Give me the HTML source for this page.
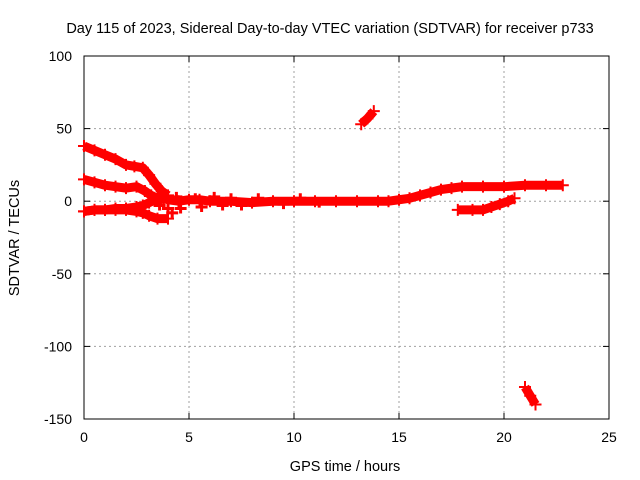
<!DOCTYPE html>
<html><head><meta charset="utf-8"><style>
body{margin:0;background:#fff}
svg{display:block;font-family:"Liberation Sans",sans-serif}
</style></head><body>
<svg id="c" width="640" height="480"></svg>
<script>
const xTicks=[0,5,10,15,20,25];
const yTicks=[100,50,0,-50,-100,-150];
const seriesA=[[0,38],[0.5,35],[1,32],[1.5,29],[2,25],[2.4,24],[2.8,23],[3.1,18],[3.4,12],[3.7,7],[4,4]];
const seriesB=[[0,15],[0.5,13],[1,11],[1.5,10],[2,9],[2.5,10],[2.9,7],[3.2,4],[3.5,2],[3.8,0]];
const seriesC=[[0,-7],[0.5,-6],[1,-6],[1.5,-5],[2,-5],[2.5,-4],[2.8,-3],[3.1,-1],[3.4,1],[3.7,2],[4,1],[4.5,0],[5,1],[5.5,1],[6,0],[7,0],[8,-1],[9,0],[10,0],[11,0],[12,0],[13,0],[14,0],[14.5,0],[15,1],[15.5,2],[16,4],[16.5,6],[17,8],[17.5,9],[18,10],[19,10],[20,10],[21,11],[22,11],[22.8,11]];
const seriesD=[[0,-7],[0.5,-6],[1,-6],[1.5,-6],[2,-6],[2.5,-7],[2.8,-8],[3.1,-10],[3.5,-12],[4,-12]];
const seriesE=[[13.2,53],[13.5,57],[13.8,62]];
const seriesF=[[17.8,-6],[18.5,-6],[19,-6],[19.4,-4],[19.8,-2],[20.2,0],[20.5,2]];
const seriesG=[[21,-128],[21.25,-134],[21.5,-140]];
const scatter=[[3.3,3],[3.6,-3],[4,-5],[4.2,-8],[4.4,3],[4.6,-5],[5.3,2],[5.6,-4],[6.2,3],[6.6,-3],[7,2],[7.5,-3],[8.3,2],[9.5,-2],[10.3,2],[11.2,-1]];
const X0=84,X1=609,Y0=419,Y1=56;
const sx=v=>X0+(v-0)/(25-0)*(X1-X0);
const sy=v=>Y0-(v+150)/250*(Y0-Y1);
const svg=document.getElementById('c');
const NS='http://www.w3.org/2000/svg';
function mk(t,a,p){const e=document.createElementNS(NS,t);for(const k in a)e.setAttribute(k,a[k]);(p||svg).appendChild(e);return e;}
const grid=mk('g',{});
xTicks.forEach(t=>{if(t>0&&t<25){const l=mk('line',{x1:sx(t),x2:sx(t),y1:Y1,y2:Y0,stroke:'#a0a0a0','stroke-dasharray':'2,3'},grid);}
const tl=mk('text',{x:sx(t),y:442,'text-anchor':'middle','font-size':14,fill:'#000'});tl.textContent=t;

mk('line',{x1:sx(t),x2:sx(t),y1:Y0,y2:Y0-6,stroke:'#000'});mk('line',{x1:sx(t),x2:sx(t),y1:Y1,y2:Y1+6,stroke:'#000'});});
yTicks.forEach(t=>{if(t>-150&&t<100){mk('line',{x1:X0,x2:X1,y1:sy(t),y2:sy(t),stroke:'#a0a0a0','stroke-dasharray':'2,3'},grid);}
const tl=mk('text',{x:72,y:sy(t)+5,'text-anchor':'end','font-size':14,fill:'#000'});tl.textContent=t;

mk('line',{x1:X0,x2:X0+6,y1:sy(t),y2:sy(t),stroke:'#000'});mk('line',{x1:X1,x2:X1-6,y1:sy(t),y2:sy(t),stroke:'#000'});});
const fr=mk('rect',{x:X0,y:Y1,width:X1-X0,height:Y0-Y1,fill:'none',stroke:'#000'});

function series(d,name){const g=mk('g',{});
if(d.length>1)mk('polyline',{points:d.map(p=>sx(p[0])+','+sy(p[1])).join(' '),fill:'none',stroke:'#f00','stroke-width':9,'stroke-linejoin':'round'},g);
d.forEach(p=>{const x=sx(p[0]),y=sy(p[1]);mk('path',{d:`M${x-6},${y}h12M${x},${y-6}v12`,stroke:'#f00','stroke-width':2},g);});}
series(seriesA,'series-a');series(seriesB,'series-b');series(seriesC,'series-c');series(seriesD,'series-d');
series(seriesE,'series-e');series(seriesF,'series-f');series(seriesG,'series-g');
const sg=mk('g',{});
scatter.forEach(p=>{const x=sx(p[0]),y=sy(p[1]);mk('path',{d:`M${x-6},${y}h12M${x},${y-5}v10`,stroke:'#f00','stroke-width':3},sg);});
const t=mk('text',{x:330,y:33,'text-anchor':'middle','font-size':14.5,fill:'#000'});t.textContent='Day 115 of 2023, Sidereal Day-to-day VTEC variation (SDTVAR) for receiver p733';

const xl=mk('text',{x:345,y:471,'text-anchor':'middle','font-size':14.5,fill:'#000'});xl.textContent='GPS time / hours';

const yl=mk('text',{x:0,y:0,'text-anchor':'middle','font-size':14.5,fill:'#000',transform:'translate(19,238) rotate(-90)'});yl.textContent='SDTVAR / TECUs';

</script>
</body></html>
